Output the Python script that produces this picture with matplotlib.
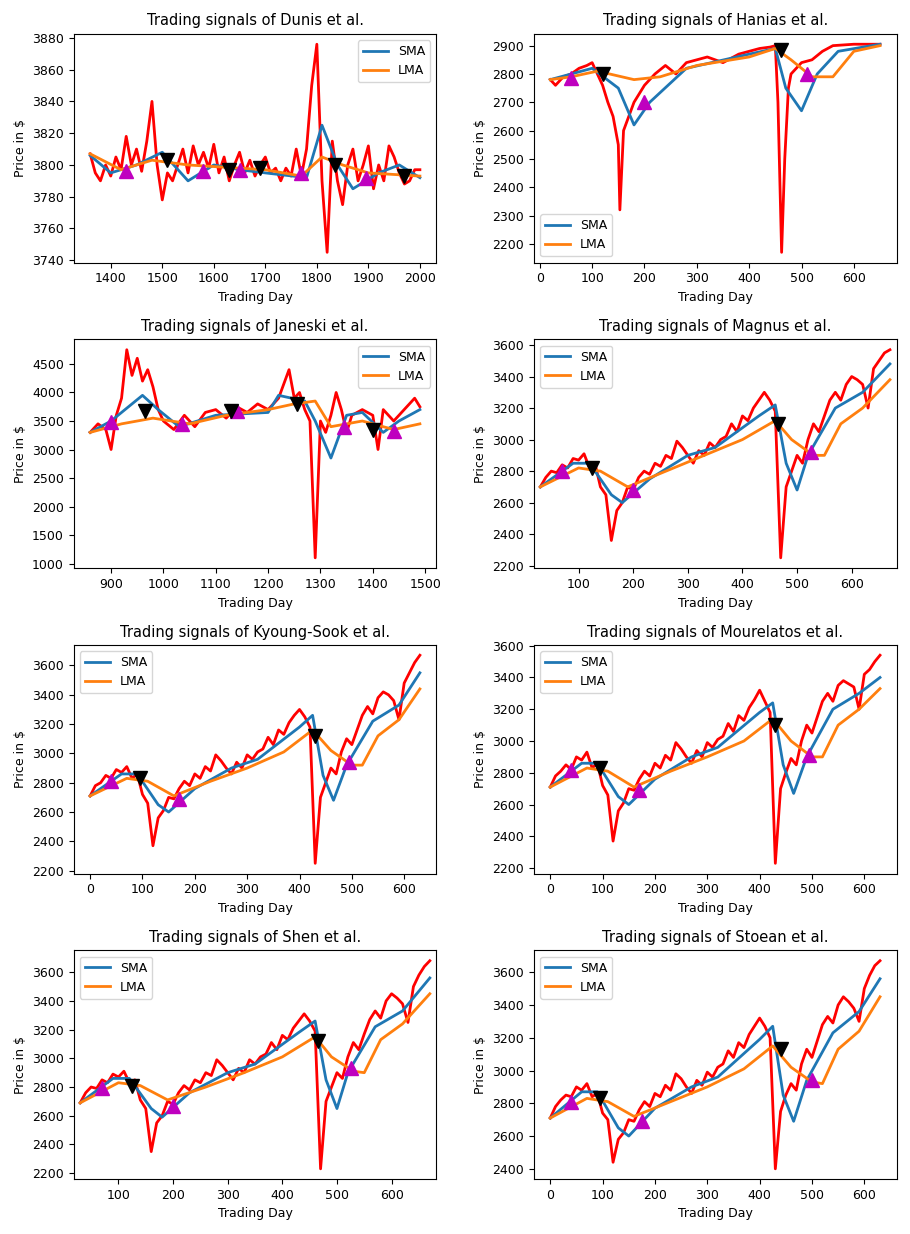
import numpy as np
import matplotlib
matplotlib.use("Agg")
import matplotlib.pyplot as plt

plt.rcParams['font.size'] = 9

# ---- Dunis ----
dunis_x0, dunis_step = 1360, 10
dunis_price = [3807, 3795, 3790, 3800, 3793, 3805, 3797, 3818, 3800, 3810, 3796, 3815, 3840, 3800, 3778,
               3795, 3790, 3800, 3810, 3795, 3812, 3800, 3808, 3798, 3813, 3795, 3805, 3790, 3800, 3808,
               3795, 3803, 3793, 3800, 3805, 3795, 3798, 3790, 3798, 3793, 3810, 3793, 3810, 3850, 3876,
               3790, 3745, 3815, 3790, 3775, 3800, 3810, 3790, 3800, 3812, 3785, 3800, 3790, 3812, 3805,
               3795, 3788, 3790, 3797, 3797]
dunis_sma_x = [1360, 1400, 1450, 1500, 1550, 1600, 1650, 1700, 1780, 1810, 1840, 1870, 1920, 1960, 2000]
dunis_sma = [3806, 3795, 3800, 3808, 3790, 3800, 3797, 3795, 3792, 3825, 3800, 3785, 3795, 3800, 3792]
dunis_lma_x = [1360, 1420, 1480, 1550, 1700, 1770, 1810, 1850, 1900, 2000]
dunis_lma = [3807, 3797, 3803, 3800, 3797, 3793, 3805, 3800, 3795, 3793]
dunis_buy = [(1430, 3796), (1580, 3796), (1650, 3797), (1770, 3795), (1895, 3792)]
dunis_sell = [(1510, 3803), (1630, 3797), (1690, 3798), (1835, 3800), (1970, 3793)]

# ---- Hanias ----
hanias_px = [20, 30, 45, 60, 75, 90, 100, 110, 120, 130, 140, 150, 153, 160, 170, 180, 190, 200, 210, 220,
             240, 260, 280, 300, 320, 350, 380, 400, 420, 440, 450, 455, 462, 468, 475, 480, 490, 500, 520,
             540, 560, 600, 650]
hanias_price = [2780, 2760, 2790, 2800, 2820, 2830, 2840, 2800, 2760, 2700, 2650, 2550, 2320, 2600, 2650,
                2700, 2730, 2760, 2780, 2800, 2830, 2800, 2840, 2850, 2860, 2840, 2870, 2880, 2890, 2895,
                2900, 2700, 2170, 2500, 2750, 2800, 2820, 2840, 2850, 2880, 2900, 2905, 2905]
hanias_sma_x = [20, 100, 150, 180, 210, 280, 400, 450, 470, 500, 530, 570, 650]
hanias_sma = [2780, 2820, 2750, 2620, 2700, 2820, 2870, 2890, 2750, 2670, 2800, 2880, 2905]
hanias_lma_x = [20, 60, 110, 180, 230, 300, 400, 450, 480, 520, 560, 600, 650]
hanias_lma = [2780, 2790, 2810, 2780, 2790, 2830, 2860, 2890, 2850, 2790, 2790, 2880, 2900]
hanias_buy = [(60, 2785), (200, 2700), (510, 2800)]
hanias_sell = [(120, 2800), (460, 2885)]

# ---- Janeski ----
janeski_px = [860, 875, 890, 900, 910, 920, 930, 940, 950, 960, 970, 980, 990, 1000, 1020, 1040, 1060,
              1080, 1100, 1120, 1140, 1160, 1180, 1200, 1220, 1240, 1250, 1260, 1270, 1280, 1290, 1300,
              1310, 1320, 1330, 1340, 1350, 1360, 1380, 1400, 1410, 1420, 1440, 1460, 1480, 1490]
janeski_price = [3300, 3450, 3350, 3000, 3600, 3900, 4750, 4300, 4600, 4200, 4400, 4100, 3700, 3500, 3350,
                 3600, 3400, 3650, 3700, 3550, 3750, 3650, 3800, 3700, 3900, 4400, 3900, 4000, 3700, 3500,
                 1100, 3500, 3300, 3600, 4000, 3700, 3300, 3600, 3700, 3600, 3000, 3700, 3500, 3700, 3900,
                 3750]
janeski_sma_x = [860, 900, 960, 990, 1030, 1100, 1200, 1220, 1270, 1290, 1320, 1350, 1380, 1420, 1450, 1490]
janeski_sma = [3300, 3500, 3950, 3700, 3400, 3600, 3650, 3950, 3850, 3500, 2850, 3600, 3650, 3300, 3500, 3700]
janeski_lma_x = [860, 920, 980, 1050, 1120, 1200, 1250, 1290, 1320, 1380, 1440, 1490]
janeski_lma = [3300, 3450, 3550, 3450, 3600, 3700, 3800, 3850, 3400, 3500, 3350, 3450]
janeski_buy = [(900, 3480), (1035, 3450), (1140, 3680), (1345, 3400), (1440, 3330)]
janeski_sell = [(965, 3670), (1130, 3680), (1255, 3800), (1400, 3350)]

# ---- Magnus ----
magnus_x0, magnus_step = 30, 10
magnus_price = [2700, 2760, 2800, 2790, 2840, 2820, 2880, 2870, 2910, 2820, 2850, 2700, 2650, 2360, 2550,
                2600, 2700, 2680, 2760, 2800, 2780, 2850, 2830, 2900, 2880, 2990, 2950, 2900, 2850, 2930,
                2900, 2980, 2950, 3000, 3020, 3100, 3050, 3150, 3120, 3200, 3250, 3300, 3250, 3180, 2250,
                2700, 2800, 2900, 2850, 3000, 3100, 3050, 3150, 3250, 3300, 3250, 3350, 3400, 3380, 3350,
                3200, 3450, 3500, 3550, 3570]
magnus_sma_x = [30, 90, 120, 160, 180, 230, 300, 350, 430, 460, 480, 500, 520, 570, 620, 670]
magnus_sma = [2700, 2850, 2850, 2650, 2600, 2750, 2900, 2950, 3150, 3220, 2850, 2680, 2900, 3200, 3300, 3480]
magnus_lma_x = [30, 100, 140, 190, 260, 330, 400, 460, 490, 530, 550, 580, 620, 670]
magnus_lma = [2700, 2820, 2800, 2700, 2800, 2900, 3000, 3120, 3000, 2900, 2900, 3100, 3200, 3380]
magnus_buy = [(70, 2800), (200, 2680), (525, 2920)]
magnus_sell = [(125, 2820), (465, 3100)]

# ---- Kyoung-Sook ----
kyoung_x0, kyoung_step = 0, 10
kyoung_price = [2710, 2780, 2800, 2850, 2830, 2890, 2870, 2910, 2830, 2860, 2720, 2660, 2370, 2560,
                2610, 2700, 2690, 2760, 2810, 2780, 2860, 2830, 2910, 2880, 2990, 2950, 2900, 2860, 2940,
                2900, 2990, 2960, 3010, 3030, 3110, 3060, 3160, 3130, 3210, 3260, 3300, 3250, 3180, 2250,
                2700, 2800, 2900, 2860, 3010, 3100, 3060, 3160, 3260, 3320, 3270, 3380, 3420, 3400, 3360,
                3230, 3480, 3550, 3620, 3670]
kyoung_sma_x = [0, 60, 90, 130, 150, 200, 270, 320, 400, 425, 445, 465, 490, 540, 590, 630]
kyoung_sma = [2710, 2860, 2860, 2650, 2600, 2760, 2900, 2960, 3180, 3260, 2850, 2680, 2920, 3220, 3330, 3550]
kyoung_lma_x = [0, 70, 110, 160, 230, 300, 370, 425, 460, 500, 520, 550, 590, 630]
kyoung_lma = [2710, 2830, 2810, 2710, 2810, 2900, 3010, 3160, 3020, 2920, 2920, 3120, 3230, 3440]
kyoung_buy = [(40, 2810), (170, 2690), (495, 2940)]
kyoung_sell = [(95, 2830), (430, 3120)]

# ---- Mourelatos ----
mour_x0, mour_step = 0, 10
mour_price = [2710, 2780, 2810, 2850, 2820, 2900, 2880, 2930, 2830, 2860, 2720, 2660, 2370, 2560,
              2610, 2700, 2690, 2760, 2810, 2780, 2860, 2830, 2910, 2880, 2990, 2950, 2900, 2860, 2940,
              2900, 2990, 2960, 3010, 3030, 3110, 3060, 3160, 3130, 3210, 3260, 3320, 3250, 3180, 2230,
              2700, 2800, 2890, 2850, 3000, 3100, 3050, 3150, 3250, 3300, 3250, 3350, 3380, 3360, 3340,
              3200, 3420, 3450, 3500, 3540]
mour_sma_x = [0, 60, 90, 130, 150, 200, 270, 320, 400, 425, 445, 465, 490, 540, 590, 630]
mour_sma = [2710, 2860, 2860, 2650, 2600, 2760, 2900, 2960, 3180, 3240, 2850, 2670, 2900, 3200, 3300, 3400]
mour_lma_x = [0, 70, 110, 160, 230, 300, 370, 425, 460, 500, 520, 550, 590, 630]
mour_lma = [2710, 2830, 2810, 2710, 2810, 2900, 3000, 3140, 3000, 2900, 2900, 3100, 3200, 3330]
mour_buy = [(40, 2815), (170, 2690), (495, 2910)]
mour_sell = [(95, 2830), (430, 3100)]

# ---- Shen ----
shen_x0, shen_step = 30, 10
shen_price = [2690, 2760, 2800, 2790, 2850, 2830, 2890, 2870, 2910, 2830, 2850, 2710, 2650, 2350, 2550,
              2600, 2700, 2680, 2760, 2810, 2780, 2850, 2830, 2900, 2880, 2990, 2950, 2900, 2850, 2930,
              2900, 2990, 2960, 3010, 3030, 3110, 3060, 3160, 3130, 3210, 3260, 3310, 3260, 3190, 2230,
              2700, 2800, 2900, 2860, 3010, 3110, 3060, 3170, 3270, 3330, 3280, 3400, 3450, 3420, 3380,
              3250, 3500, 3580, 3640, 3680]
shen_sma_x = [30, 90, 120, 160, 180, 230, 300, 350, 430, 460, 480, 500, 520, 570, 620, 670]
shen_sma = [2690, 2860, 2860, 2650, 2590, 2760, 2900, 2960, 3180, 3260, 2850, 2650, 2900, 3220, 3330, 3560]
shen_lma_x = [30, 100, 140, 190, 260, 330, 400, 460, 490, 530, 550, 580, 620, 670]
shen_lma = [2690, 2830, 2810, 2710, 2800, 2900, 3010, 3150, 3010, 2910, 2900, 3130, 3240, 3450]
shen_buy = [(70, 2790), (200, 2670), (525, 2930)]
shen_sell = [(125, 2810), (465, 3120)]

# ---- Stoean ----
stoean_x0, stoean_step = 0, 10
stoean_price = [2710, 2780, 2820, 2850, 2840, 2900, 2880, 2920, 2840, 2860, 2740, 2700, 2440, 2580,
                2620, 2700, 2690, 2760, 2810, 2780, 2860, 2840, 2910, 2880, 2980, 2950, 2900, 2860, 2940,
                2910, 2990, 2960, 3020, 3040, 3120, 3080, 3170, 3140, 3220, 3270, 3320, 3270, 3200, 2400,
                2750, 2850, 2920, 2880, 3040, 3130, 3080, 3180, 3280, 3330, 3290, 3400, 3450, 3420, 3380,
                3300, 3500, 3580, 3640, 3670]
stoean_sma_x = [0, 60, 90, 130, 150, 200, 270, 320, 400, 425, 445, 465, 490, 540, 590, 630]
stoean_sma = [2710, 2870, 2870, 2650, 2600, 2770, 2900, 2960, 3190, 3270, 2850, 2690, 2940, 3230, 3360, 3560]
stoean_lma_x = [0, 70, 110, 160, 230, 300, 370, 425, 460, 500, 520, 550, 590, 630]
stoean_lma = [2710, 2830, 2810, 2720, 2810, 2900, 3010, 3150, 3020, 2930, 2920, 3130, 3240, 3450]
stoean_buy = [(40, 2810), (175, 2690), (500, 2940)]
stoean_sell = [(95, 2830), (440, 3130)]


def reg_x(x0, step, vals):
    return x0 + step * np.arange(len(vals))


def panel(ax, title, px, price, sx, sma, lx, lma, buy, sell, loc, xlim=None):
    ax.plot(px, price, color="red", lw=2)
    ax.plot(sx, sma, color="C0", lw=2, label="SMA")
    ax.plot(lx, lma, color="C1", lw=2, label="LMA")
    bx, by = zip(*buy)
    sx2, sy2 = zip(*sell)
    ax.plot(bx, by, "^", color="m", markersize=10, linestyle="none")
    ax.plot(sx2, sy2, "v", color="k", markersize=10, linestyle="none")
    ax.set_title("Trading signals of %s et al." % title, fontsize=10.5)
    ax.set_xlabel("Trading Day")
    ax.set_ylabel("Price in $")
    ax.legend(loc=loc)
    if xlim:
        ax.set_xlim(*xlim)


fig, axes = plt.subplots(4, 2, figsize=(9.1, 12.34), dpi=100)
panel(axes[0, 0], "Dunis", reg_x(dunis_x0, dunis_step, dunis_price), dunis_price,
      dunis_sma_x, dunis_sma, dunis_lma_x, dunis_lma, dunis_buy, dunis_sell, "upper right")
panel(axes[0, 1], "Hanias", hanias_px, hanias_price, hanias_sma_x, hanias_sma,
      hanias_lma_x, hanias_lma, hanias_buy, hanias_sell, "lower left")
panel(axes[1, 0], "Janeski", janeski_px, janeski_price, janeski_sma_x, janeski_sma,
      janeski_lma_x, janeski_lma, janeski_buy, janeski_sell, "upper right")
panel(axes[1, 1], "Magnus", reg_x(magnus_x0, magnus_step, magnus_price), magnus_price,
      magnus_sma_x, magnus_sma, magnus_lma_x, magnus_lma, magnus_buy, magnus_sell, "upper left",
      (18, 682))
panel(axes[2, 0], "Kyoung-Sook", reg_x(kyoung_x0, kyoung_step, kyoung_price), kyoung_price,
      kyoung_sma_x, kyoung_sma, kyoung_lma_x, kyoung_lma, kyoung_buy, kyoung_sell, "upper left")
panel(axes[2, 1], "Mourelatos", reg_x(mour_x0, mour_step, mour_price), mour_price,
      mour_sma_x, mour_sma, mour_lma_x, mour_lma, mour_buy, mour_sell, "upper left")
panel(axes[3, 0], "Shen", reg_x(shen_x0, shen_step, shen_price), shen_price,
      shen_sma_x, shen_sma, shen_lma_x, shen_lma, shen_buy, shen_sell, "upper left", (18, 682))
panel(axes[3, 1], "Stoean", reg_x(stoean_x0, stoean_step, stoean_price), stoean_price,
      stoean_sma_x, stoean_sma, stoean_lma_x, stoean_lma, stoean_buy, stoean_sell, "upper left")

plt.tight_layout(h_pad=1.2, w_pad=2.5)
fig.savefig("out.png")
